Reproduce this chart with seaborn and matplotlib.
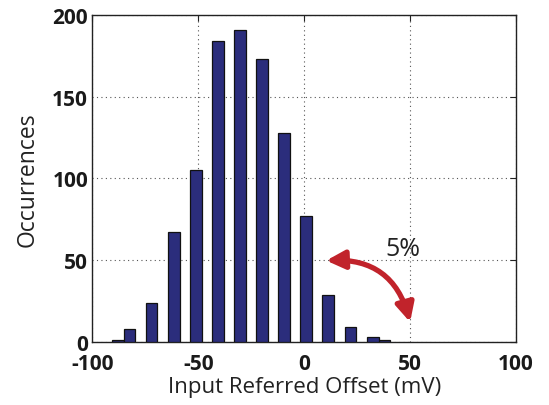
import numpy as np
import pandas as pd
import matplotlib
matplotlib.use("Agg")
import matplotlib.pyplot as plt
from matplotlib.patches import FancyArrowPatch
import seaborn as sns

# Histogram of input-referred offset (bin centres in mV, counts per bin)
bin_centers = [-82.4, -72.0, -61.6, -51.0, -40.6, -30.2, -19.9, -9.5, 0.9, 11.3, 21.9, 32.4]
counts = [8, 24, 67, 105, 184, 191, 173, 128, 77, 29, 9, 3]

# Two sparse outlier bins at the extremes
tail_centers = [-88.0, 37.6]
tail_counts = [1, 1]

x_ticks = [-100, -50, 0, 50, 100]
y_ticks = [0, 50, 100, 150, 200]
annotation = "5%"

sns.set_style("white")
plt.rcParams["font.family"] = ["Open Sans", "DejaVu Sans"]

fig = plt.figure(figsize=(5.49, 4.06), dpi=100)
ax = fig.add_axes([0.168, 0.155, 0.772, 0.806])

bar_color = "#2b2d7c"
spacing = float(np.diff(bin_centers).mean())


def edges_for(centers, step):
    c = np.asarray(centers, dtype=float)
    e = np.concatenate([[c[0] - step / 2], (c[:-1] + c[1:]) / 2, [c[-1] + step / 2]])
    return [float(v) for v in e]


df_main = pd.DataFrame({"offset": bin_centers, "count": counts})
sns.histplot(data=df_main, x="offset", weights="count", bins=edges_for(bin_centers, spacing),
             shrink=0.53, color=bar_color, alpha=1, edgecolor="#111111", linewidth=0.9, ax=ax, zorder=3)

df_tail = pd.DataFrame({"offset": tail_centers, "count": tail_counts})
for c in tail_centers:
    sns.histplot(data=df_tail[df_tail["offset"] == c], x="offset", weights="count",
                 bins=[c - spacing / 2, c + spacing / 2], shrink=0.53,
                 color=bar_color, alpha=1, edgecolor="#111111", linewidth=0.9, ax=ax, zorder=2)

ax.set_xlim(-100, 100)
ax.set_ylim(0, 200)
ax.set_xticks(x_ticks)
ax.set_yticks(y_ticks)
ax.set_xticklabels([str(t) for t in x_ticks], fontsize=15, fontweight="bold", color="#1a1a1a")
ax.set_yticklabels([str(t) for t in y_ticks], fontsize=15, fontweight="bold", color="#1a1a1a")
ax.tick_params(axis="x", direction="in", length=4, width=0.8, top=True, pad=8, color="#222222")
ax.tick_params(axis="y", direction="in", length=4, width=0.8, right=True, pad=3, color="#222222")

ax.grid(True, linestyle=(0, (1, 3)), color="#555555", linewidth=0.8, zorder=0)
ax.set_axisbelow(True)
for s in ax.spines.values():
    s.set_color("#222222")
    s.set_linewidth(1.0)

ax.set_xlabel("Input Referred Offset (mV)", fontsize=16, color="#222222", labelpad=1)
ax.set_ylabel("Occurrences", fontsize=16.5, color="#222222", labelpad=9)

arrow = FancyArrowPatch((10.4, 49.8), (50.0, 12.2), connectionstyle="arc3,rad=-0.4",
                        arrowstyle="<|-|>,head_length=11,head_width=5.5",
                        color="#c1232b", linewidth=3.8, zorder=5, mutation_scale=1,
                        shrinkA=0, shrinkB=0)
ax.add_patch(arrow)
ax.text(46.5, 57, annotation, fontsize=18, color="#222222", ha="center", va="center", zorder=6)

fig.savefig("out.png", dpi=100)
